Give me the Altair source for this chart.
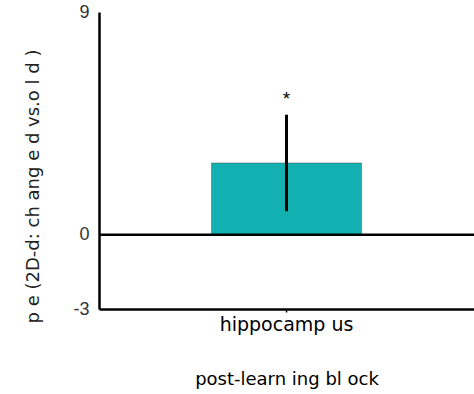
import altair as alt
import pandas as pd

categories = ["hippocamp us"]
means = [2.9]
err_low = [0.95]
err_high = [4.85]
sig = ["*"]

df = pd.DataFrame({"cat": categories, "mean": means, "lo": err_low, "hi": err_high, "sig": sig})

FONT = "Liberation Sans"
WFONT = "DejaVu Sans"

x = alt.X("cat:N", title="post-learn ing bl ock",
          scale=alt.Scale(paddingInner=0.6, paddingOuter=0.3),
          axis=alt.Axis(labelAngle=0, labelFontSize=19, labelColor="#000", labelFont=WFONT,
                        titleFontSize=18, titleFont=WFONT, titleFontWeight="normal", titleColor="#000",
                        titlePadding=36, domainColor="#000", domainWidth=2.5, tickColor="#000",
                        tickSize=3, tickWidth=1.5, labelPadding=3))
y_scale = alt.Scale(domain=[-3, 9], nice=False)

bar = alt.Chart(df).mark_bar(color="#12b0b0", stroke="#555", strokeWidth=0.5).encode(
    x=x,
    y=alt.Y("mean:Q", scale=y_scale, title="p e (2D-d: ch ang e d vs.o l d )",
            axis=alt.Axis(values=[-3, 0, 9], ticks=False, grid=False, labelFontSize=18,
                          labelColor="#333", labelFont=FONT, labelPadding=10,
                          labelExpr="'' + datum.value",
                          titleFontSize=18, titleFont=WFONT, titleFontWeight="normal",
                          titleColor="#222", titleX=-66, titleY=174, titleBaseline="middle",
                          titleAlign="center", titleAngle=270,
                          domainColor="#000", domainWidth=2.5)),
)

err = alt.Chart(df).mark_rule(color="#000", strokeWidth=3).encode(
    x="cat:N", y=alt.Y("lo:Q", scale=y_scale), y2="hi:Q")

star = alt.Chart(df).mark_text(fontSize=19, font=FONT, dy=-6, baseline="bottom").encode(
    x="cat:N", y=alt.Y("hi:Q", scale=y_scale), text="sig:N")

zero = alt.Chart(pd.DataFrame({"z": [0]})).mark_rule(color="#000", strokeWidth=2.5).encode(
    y=alt.Y("z:Q", scale=y_scale))

chart = alt.layer(bar, zero, err, star).properties(
    width=375, height=297,
    autosize=alt.AutoSizeParams(type="none"),
    padding={"left": 99, "top": 12, "right": 0, "bottom": 85},
).configure(background="white").configure_view(stroke=None)

chart.save("out.html", embed_options={"renderer": "svg", "actions": False})
